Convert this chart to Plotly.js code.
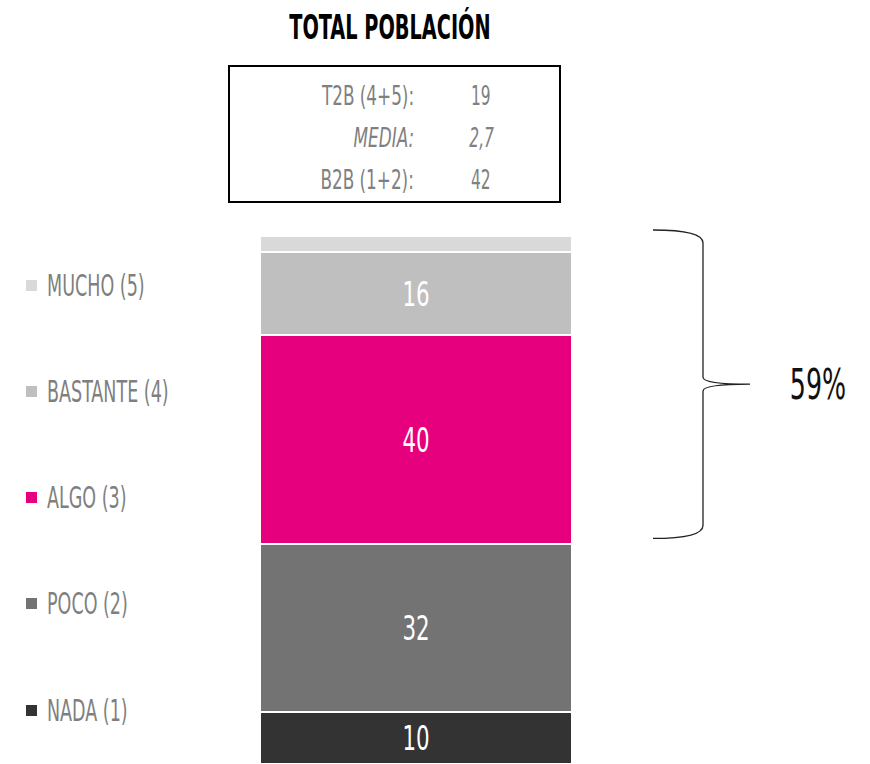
<!DOCTYPE html>
<html>
<head>
<meta charset="utf-8">
<script src="https://cdn.plot.ly/plotly-3.0.1.min.js"></script>
<style>html,body{margin:0;padding:0;background:#fff;}#chart{width:870px;height:764px;}</style>
</head>
<body>
<div id="chart"></div>
<script>
// ---- data ----
const categories = ["NADA (1)", "POCO (2)", "ALGO (3)", "BASTANTE (4)", "MUCHO (5)"];
const values = [10, 32, 40, 16, 3];
const showLabel = [true, true, true, true, false];
const colors = ["#333333", "#737373", "#e6007e", "#bfbfbf", "#d9d9d9"];
const groupName = "TOTAL POBLACIÓN";
const summaryLabels = ["T2B (4+5):", "MEDIA:", "B2B (1+2):"];
const summaryValues = ["19", "2,7", "42"];
const summaryItalic = [false, true, false];
const braceLabel = "59%";
const braceFrom = 2; // first category covered by the brace (ALGO)

// ---- layout helpers ----
const W = 870, H = 764;
const M = {l: 260, r: 298, t: 236, b: 0};
const PW = W - M.l - M.r, PH = H - M.t - M.b;
const fx = px => (px - M.l) / PW;
const fy = py => (H - M.b - py) / PH;
const FONT = "DejaVu Sans Condensed, DejaVu Sans, sans-serif";

const total = values.reduce((a, b) => a + b, 0);
const pxPerUnit = PH / total;

const traces = categories.map((c, i) => ({
  type: "bar",
  name: c,
  x: [groupName],
  y: [values[i]],
  marker: {color: colors[i], line: {color: "#ffffff", width: 2}},
  text: [String(values[i])],
  textposition: showLabel[i] ? "inside" : "none",
  insidetextanchor: "middle",
  textfont: {family: FONT, size: 34, color: "#ffffff"},
  hoverinfo: "name+y",
  showlegend: false
}));

const annotations = [];
const shapes = [];
const squeeze = []; // [annotation index, origin mode, group]

// legend (manual, evenly spaced like the reference)
const legendY = [710, 603, 497, 391, 285];
categories.forEach((c, i) => {
  shapes.push({type: "rect", xref: "paper", yref: "paper",
    x0: fx(26), x1: fx(37), y0: fy(legendY[i] + 6), y1: fy(legendY[i] - 5),
    fillcolor: colors[i], line: {width: 0}});
  squeeze.push([annotations.length, "left", "legend"]);
  annotations.push({xref: "paper", yref: "paper", x: fx(45), y: fy(legendY[i]),
    xanchor: "left", yanchor: "middle", showarrow: false, text: c,
    font: {family: FONT, size: 30, color: "#7f7f7f"}});
});

// summary box
shapes.push({type: "rect", xref: "paper", yref: "paper",
  x0: fx(229), x1: fx(560), y0: fy(202), y1: fy(66),
  line: {color: "#000000", width: 2}, fillcolor: "rgba(0,0,0,0)"});
const boxY = [96, 138, 180];
summaryLabels.forEach((s, i) => {
  const it = summaryItalic[i];
  squeeze.push([annotations.length, "right", "boxLabel"]);
  annotations.push({xref: "paper", yref: "paper", x: fx(416), y: fy(boxY[i]),
    xanchor: "right", yanchor: "middle", showarrow: false,
    text: it ? "<i>" + s + "</i>" : s,
    font: {family: FONT, size: 26, color: "#808080"}});
  squeeze.push([annotations.length, "middle", "boxValue"]);
  annotations.push({xref: "paper", yref: "paper", x: fx(481), y: fy(boxY[i]),
    xanchor: "center", yanchor: "middle", showarrow: false,
    text: it ? "<i>" + summaryValues[i] + "</i>" : summaryValues[i],
    font: {family: FONT, size: 26, color: "#808080"}});
});

// brace over ALGO + BASTANTE + MUCHO (paper y derived from data)
const py = v => v / total;
const yb = py(values.slice(0, braceFrom).reduce((a, b) => a + b, 0) + 6 / pxPerUnit);
const yt = py(total + 6 / pxPerUnit);
const ym = (yt + yb) / 2;
const x0 = fx(653), x1 = fx(703), x2 = fx(750);
const d = 13 / PH, e = 7 / PH;
shapes.push({type: "path", xref: "paper", yref: "paper",
  path: `M ${x0},${yt} Q ${x1},${yt} ${x1},${yt - d} L ${x1},${ym + e} Q ${x1},${ym} ${x2},${ym} ` +
        `Q ${x1},${ym} ${x1},${ym - e} L ${x1},${yb + d} Q ${x1},${yb} ${x0},${yb}`,
  line: {color: "#222222", width: 1.3}});
squeeze.push([annotations.length, "middle", "brace"]);
annotations.push({xref: "paper", yref: "paper", x: fx(818), y: ym,
  xanchor: "center", yanchor: "middle", showarrow: false, text: braceLabel,
  font: {family: FONT, size: 42, color: "#111111"}});

const layout = {
  width: W, height: H,
  margin: M,
  paper_bgcolor: "#ffffff", plot_bgcolor: "#ffffff",
  barmode: "stack", bargap: 0,
  title: {text: "<b>" + groupName + "</b>", x: fx(390), xref: "paper", xanchor: "center",
          y: 1 - 27 / H, yref: "container", yanchor: "middle",
          font: {family: FONT, size: 33, color: "#000000"}},
  xaxis: {visible: false, fixedrange: true},
  yaxis: {visible: false, range: [0, total], fixedrange: true},
  showlegend: false,
  shapes: shapes,
  annotations: annotations
};

// horizontal squeeze factors to imitate the narrow typeface of the original
const SCALE = {legend: 0.65, boxLabel: 0.72, boxValue: 0.66, brace: 0.67, bar: 0.7, title: 0.65};

function squeezeText(el, s, mode) {
  const bb = el.getBBox();
  const ox = mode === "left" ? bb.x : mode === "right" ? bb.x + bb.width : bb.x + bb.width / 2;
  const prev = el.getAttribute("transform") || "";
  el.setAttribute("transform", `${prev} translate(${ox},0) scale(${s},1) translate(${-ox},0)`);
}

Plotly.newPlot("chart", traces, layout, {displayModeBar: false, staticPlot: true}).then(gd => {
  squeeze.forEach(([idx, mode, grp]) => {
    const t = gd.querySelector(`g.annotation[data-index="${idx}"] text.annotation-text`);
    if (t) squeezeText(t, SCALE[grp], mode);
  });
  gd.querySelectorAll("text.bartext").forEach(t => squeezeText(t, SCALE.bar, "middle"));
  gd.querySelectorAll("text.gtitle").forEach(t => squeezeText(t, SCALE.title, "middle"));
});
</script>
</body>
</html>
